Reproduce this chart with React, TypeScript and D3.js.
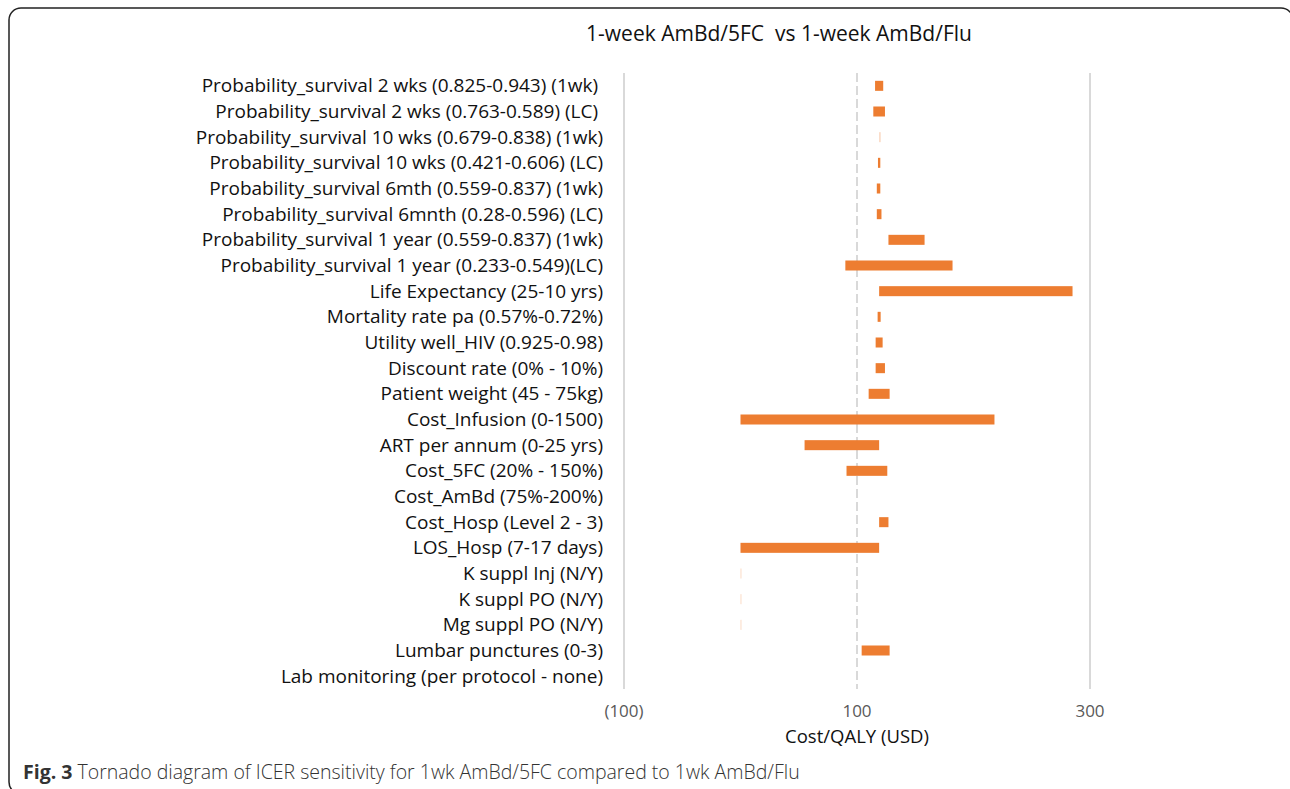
import React from "react";
import * as d3 from "d3";

const categories = [
  "Probability_survival 2 wks (0.825-0.943) (1wk) ",
  "Probability_survival 2 wks (0.763-0.589) (LC) ",
  "Probability_survival 10 wks (0.679-0.838) (1wk)",
  "Probability_survival 10 wks (0.421-0.606) (LC)",
  "Probability_survival 6mth (0.559-0.837) (1wk)",
  "Probability_survival 6mnth (0.28-0.596) (LC)",
  "Probability_survival 1 year (0.559-0.837) (1wk)",
  "Probability_survival 1 year (0.233-0.549)(LC)",
  "Life Expectancy (25-10 yrs)",
  "Mortality rate pa (0.57%-0.72%)",
  "Utility well_HIV (0.925-0.98)",
  "Discount rate (0% - 10%)",
  "Patient weight (45 - 75kg)",
  "Cost_Infusion (0-1500)",
  "ART per annum (0-25 yrs)",
  "Cost_5FC (20% - 150%)",
  "Cost_AmBd (75%-200%)",
  "Cost_Hosp (Level 2 - 3)",
  "LOS_Hosp (7-17 days)",
  "K suppl Inj (N/Y)",
  "K suppl PO (N/Y)",
  "Mg suppl PO (N/Y)",
  "Lumbar punctures (0-3)",
  "Lab monitoring (per protocol - none)",
];

// low / high ICER (USD per QALY); null = no bar
const lowValues: (number | null)[] = [
  115.5, 114, 119, 118, 117, 117, 127, 90, 119, 117.7, 116, 116, 110, 0, 55, 91,
  null, 119, 0, 0, 0, 0, 104, null,
];
const highValues: (number | null)[] = [
  122.5, 124, 120.3, 120, 120, 121, 158, 182, 285, 120.3, 122, 124, 128, 218, 119,
  126, null, 127, 119, 0.8, 0.8, 0.8, 128, null,
];

const xTicks = [-100, 100, 300];
const xTickLabels = ["(100)", "100", "300"];

const title = "1-week AmBd/5FC  vs 1-week AmBd/Flu";
const xAxisTitle = "Cost/QALY (USD)";
const captionBold = "Fig. 3";
const captionText = " Tornado diagram of ICER sensitivity for 1wk AmBd/5FC compared to 1wk AmBd/Flu";

export default function App() {
  const W = 1290;
  const H = 789;
  const x = d3.scaleLinear().domain([-100, 300]).range([624, 1090]);
  const y = d3
    .scaleBand<string>()
    .domain(categories)
    .range([73, 689])
    .paddingInner(0.61)
    .paddingOuter(0.305);
  const font = "'Open Sans', Lato, sans-serif";

  return (
    <svg
      width={W}
      height={H}
      style={{ position: "absolute", left: 0, top: 0, background: "#fff" }}
    >
      <rect x={0} y={0} width={W} height={H} fill="#fff" />
      <rect
        x={9}
        y={8}
        width={1284}
        height={786}
        rx={12}
        ry={12}
        fill="none"
        stroke="#222"
        strokeWidth={1.5}
      />
      <text
        x={779}
        y={41}
        textAnchor="middle"
        fontFamily={font}
        fontSize={21}
        fill="#111"
        style={{ whiteSpace: "pre" }}
      >
        {title}
      </text>

      {xTicks.map((t, i) => (
        <line
          key={"g" + i}
          x1={x(t)}
          x2={x(t)}
          y1={73}
          y2={689}
          stroke="#d9d9d9"
          strokeWidth={2}
          strokeDasharray={t === 100 ? "9,4" : undefined}
        />
      ))}

      {categories.map((c, i) => {
        const lo = lowValues[i];
        const hi = highValues[i];
        if (lo === null || hi === null) return null;
        const x0 = x(Math.min(lo, hi));
        const w = Math.abs(x(hi) - x(lo));
        return (
          <rect
            key={"b" + i}
            x={x0}
            y={y(c)!}
            width={w}
            height={y.bandwidth()}
            fill="#ED7D31"
            opacity={w < 2 ? 0.3 : 1}
          />
        );
      })}

      {categories.map((c, i) => (
        <text
          key={"l" + i}
          x={603}
          y={y(c)! + y.bandwidth() / 2}
          dy="0.35em"
          textAnchor="end"
          fontFamily={font}
          fontSize={19}
          fill="#111"
          style={{ whiteSpace: "pre" }}
        >
          {c}
        </text>
      ))}

      {xTicks.map((t, i) => (
        <text
          key={"t" + i}
          x={x(t)}
          y={717}
          textAnchor="middle"
          fontFamily={font}
          fontSize={17}
          fill="#595959"
        >
          {xTickLabels[i]}
        </text>
      ))}
      <text
        x={x(100)}
        y={743}
        textAnchor="middle"
        fontFamily={font}
        fontSize={18.5}
        fill="#111"
      >
        {xAxisTitle}
      </text>

      <text
        x={23}
        y={779}
        fontFamily="'Open Sans', sans-serif"
        fontSize={19.5}
        fill="#333"
        style={{ whiteSpace: "pre" }}
      >
        <tspan fontWeight={700}>{captionBold}</tspan>
        <tspan fontWeight={300}>{captionText}</tspan>
      </text>
    </svg>
  );
}
